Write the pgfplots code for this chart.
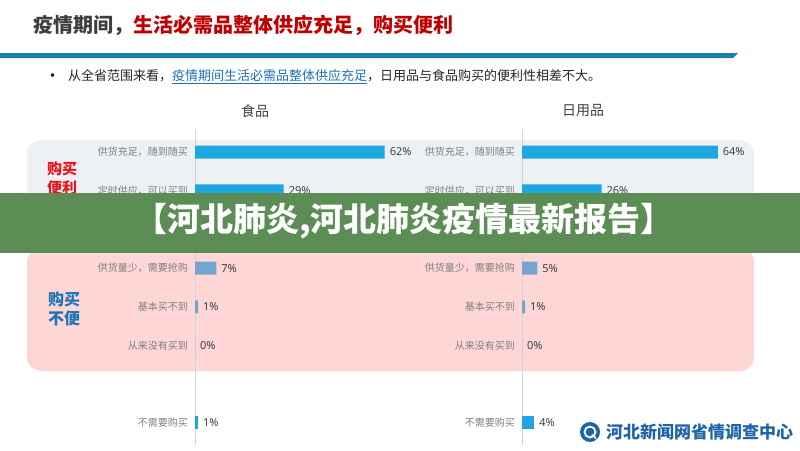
\documentclass[border=0pt]{standalone}
\usepackage{fontspec}
\setmainfont{Noto Sans}
\newfontfamily\cjk{Noto Sans CJK SC}
\usepackage{pgfplots}
\pgfplotsset{compat=1.18}
\definecolor{barA}{HTML}{1DA6DF}
\definecolor{barB}{HTML}{72A6CE}
\definecolor{titlegray}{HTML}{3F3F3F}
\definecolor{titlered}{HTML}{C00000}
\definecolor{lineblue}{HTML}{1C7DB0}
\definecolor{linkblue}{HTML}{1F6FB8}
\definecolor{darktext}{HTML}{262626}
\definecolor{graybg}{HTML}{EDF1F6}
\definecolor{pinkbg}{HTML}{FFD6D6}
\definecolor{axisgray}{HTML}{D3D3D3}
\definecolor{labgray}{HTML}{7F7F7F}
\definecolor{valtext}{HTML}{404040}
\definecolor{convred}{HTML}{E8141B}
\definecolor{inconvblue}{HTML}{1B75B5}
\definecolor{bannergreen}{HTML}{5C8D55}
\definecolor{logoblue}{HTML}{1D64A8}
\pgfplotsset{
  panel/.style={
    anchor=north west, scale only axis,
    width=275.4pt, height=315pt,
    xmin=0, xmax=90, ymin=-0.57, ymax=7.57,
    y dir=reverse,
    xbar, bar width=13pt, bar shift=0pt,
    axis x line=none, axis y line*=left,
    axis line style={-, draw=axisgray, line width=0.6pt},
    major tick length=0pt,
    ytick={0,1,3,4,5,7},
    yticklabels={供货充足，随到随买,定时供应，可以买到,供货量少，需要抢购,基本买不到,从来没有买到,不需要购买},
    yticklabel style={font=\cjk\fontsize{10}{12}\selectfont, text=labgray, xshift=-3.5pt},
    point meta=x,
    /pgf/number format/assume math mode=true,
    nodes near coords={\pgfmathprintnumber{\pgfplotspointmeta}\%},
    nodes near coords align={horizontal},
    every node near coord/.append style={font=\fontsize{11}{13}\selectfont, text=valtext, anchor=west, xshift=1.5pt},
  }
}
\begin{document}
\begin{tikzpicture}
\begin{scope}[x=1pt,y=1pt]
\useasboundingbox (0,0) rectangle (800,-450);
\fill[white] (0,0) rectangle (800,-450);
% title
\node[anchor=west, inner sep=0pt, font=\cjk\bfseries\fontsize{20}{24}\selectfont] at (33,-25)
  {\textcolor{titlegray}{疫情期间，}\textcolor{titlered}{生活必需品整体供应充足，购买便利}};
\fill[lineblue] (0,-53) -- (738,-53) -- (733,-58) -- (0,-58) -- cycle;
% bullet line
\node[anchor=west, inner sep=0pt, font=\cjk\fontsize{13}{15}\selectfont, text=darktext] at (46,-77)
  {\textbf{•}\hspace{9pt}从全省范围来看，\textcolor{linkblue}{\underline{疫情期间生活必需品整体供应充足}}，日用品与食品购买的便利性相差不大。};
% background panels
\fill[graybg, rounded corners=14pt] (27,-140) rectangle (754,-218);
\fill[pinkbg, rounded corners=14pt] (27,-248) rectangle (754,-371);
% group labels
\node[align=center, inner sep=0pt, font=\cjk\bfseries\fontsize{15}{19}\selectfont, text=convred] at (62,-178) {购买\\便利};
\node[align=center, inner sep=0pt, font=\cjk\bfseries\fontsize{16}{19}\selectfont, text=inconvblue] at (64,-309) {购买\\不便};
% headers
\node[font=\cjk\fontsize{14}{16}\selectfont, text=valtext] at (255,-111) {食品};
\node[font=\cjk\fontsize{14}{16}\selectfont, text=valtext] at (583,-111) {日用品};
\end{scope}
% left panel: food
\begin{axis}[panel, at={(195pt,-130pt)}]
\addplot[fill=barA, draw=none] coordinates {(62,0) (29,1)};
\addplot[fill=barB, draw=none] coordinates {(7,3) (1,4) (0,5)};
\addplot[fill=barA, draw=none] coordinates {(1,7)};
\end{axis}
% right panel: daily goods
\begin{axis}[panel, at={(522pt,-130pt)}]
\addplot[fill=barA, draw=none] coordinates {(64,0) (26,1)};
\addplot[fill=barB, draw=none] coordinates {(5,3) (1,4) (0,5)};
\addplot[fill=barA, draw=none] coordinates {(4,7)};
\end{axis}
\begin{scope}[x=1pt,y=1pt]
% overlay banner
\fill[bannergreen] (0,-193) rectangle (800,-253);
\node[font=\cjk\bfseries\fontsize{33}{38}\selectfont, text=white] at (404,-221) {【河北肺炎,河北肺炎疫情最新报告】};
% logo
\fill[logoblue] (590,-432) circle (10);
\draw[white, line width=1.8pt] (590,-432) circle (5.5);
\fill[white] (591,-435) -- (597,-440) -- (594,-434) -- cycle;
\node[anchor=west, inner sep=0pt, font=\cjk\bfseries\fontsize{17}{20}\selectfont, text=logoblue] at (606,-432) {河北新闻网省情调查中心};
\end{scope}
\end{tikzpicture}
\end{document}
